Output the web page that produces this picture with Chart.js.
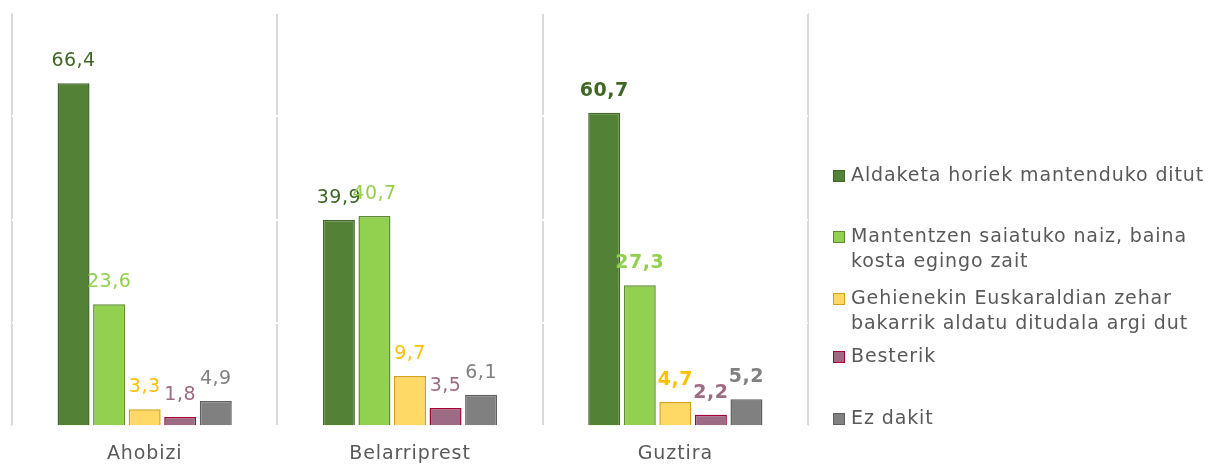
<!DOCTYPE html>
<html>
<head>
<meta charset="utf-8">
<script src="https://cdn.jsdelivr.net/npm/chart.js@4.4.1/dist/chart.umd.min.js"></script>
<style>
  html, body { margin: 0; padding: 0; background: #fff; }
  #wrap { width: 1221px; height: 464px; position: relative; }
</style>
</head>
<body>
<div id="wrap"><canvas id="bar-chart"></canvas></div>
<script>
'use strict';
// ******* DATA ********
let categories = ['Ahobizi', 'Belarriprest', 'Guztira'];
let seriesNames = [
  ['Aldaketa horiek mantenduko ditut'],
  ['Mantentzen saiatuko naiz, baina', 'kosta egingo zait'],
  ['Gehienekin Euskaraldian zehar', 'bakarrik aldatu ditudala argi dut'],
  ['Besterik'],
  ['Ez dakit']
];
let mantendu = [66.4, 39.9, 60.7];
let saiatu = [23.6, 40.7, 27.3];
let gehienekin = [3.3, 9.7, 4.7];
let besterik = [1.8, 3.5, 2.2];
let ezDakit = [4.9, 6.1, 5.2];
let yTicks = [0, 20, 40, 60, 80];

// ******* STYLE ********
let fills = ['#538135', '#92d050', '#ffd966', '#9e6b84', '#808080'];
let borders = ['#41652a', '#5f8a33', '#d4a017', '#a50034', '#5f5f5f'];
let labelColors = ['#3f6726', '#92d050', '#ffc000', '#9e6b84', '#808080'];
let fontFamily = '"DejaVu Sans", sans-serif';
let textColor = '#595959';

let allSeries = [mantendu, saiatu, gehienekin, besterik, ezDakit];

let datasets = [];
for (let i = 0; i < allSeries.length; i++) {
  datasets.push({
    label: seriesNames[i].join(' '),
    data: allSeries[i],
    backgroundColor: fills[i],
    borderColor: borders[i],
    borderWidth: 1.5,
    categoryPercentage: 0.67,
    barPercentage: 0.9
  });
}

// ******* PLUGINS ********
// wider letter spacing to get closer to the original's wide typeface
let spacing = {
  id: 'spacing',
  beforeDraw(chart) { chart.ctx.letterSpacing = '0.9px'; }
};

let valueLabels = {
  id: 'valueLabels',
  afterDatasetsDraw(chart) {
    let ctx = chart.ctx;
    ctx.save();
    ctx.letterSpacing = '0.5px';
    ctx.textAlign = 'center';
    ctx.textBaseline = 'middle';
    chart.data.datasets.forEach(function (ds, i) {
      let meta = chart.getDatasetMeta(i);
      meta.data.forEach(function (bar, j) {
        let bold = j === categories.length - 1;
        ctx.font = (bold ? 'bold ' : '') + '19px ' + fontFamily;
        ctx.fillStyle = labelColors[i];
        let txt = ds.data[j].toFixed(1).replace('.', ',');
        ctx.fillText(txt, bar.x, bar.y - 22);
      });
    });
    ctx.restore();
  }
};

let sideLegend = {
  id: 'sideLegend',
  afterDraw(chart) {
    let ctx = chart.ctx;
    let itemY = [176, 237, 299, 357, 419];
    ctx.save();
    ctx.letterSpacing = '0.9px';
    ctx.font = '19px ' + fontFamily;
    ctx.textBaseline = 'middle';
    ctx.textAlign = 'left';
    seriesNames.forEach(function (lines, i) {
      let y = itemY[i];
      ctx.fillStyle = fills[i];
      ctx.strokeStyle = borders[i];
      ctx.lineWidth = 1;
      ctx.fillRect(833, y - 6, 12, 12);
      ctx.strokeRect(833.5, y - 5.5, 11, 11);
      ctx.fillStyle = textColor;
      lines.forEach(function (line, k) {
        ctx.fillText(line, 851, y + k * 25);
      });
    });
    ctx.restore();
  }
};

// ******* CHART ********
let canvasElem = document.getElementById('bar-chart');
new Chart(canvasElem, {
  type: 'bar',
  data: { labels: categories, datasets: datasets },
  options: {
    responsive: true,
    maintainAspectRatio: false,
    animation: false,
    layout: { padding: { left: 12, right: 413, top: 13, bottom: -17 } },
    plugins: { legend: { display: false }, tooltip: { enabled: false } },
    scales: {
      x: {
        grid: { offset: true, color: '#d9d9d9', lineWidth: 2, drawTicks: false },
        border: { display: false },
        ticks: { color: textColor, font: { family: fontFamily, size: 19 }, padding: 16 }
      },
      y: {
        min: 0,
        max: 80,
        afterBuildTicks(axis) { axis.ticks = yTicks.map(function (v) { return { value: v }; }); },
        grid: { color: '#ffffff', lineWidth: 2, drawTicks: false },
        border: { display: false },
        ticks: { display: false }
      }
    }
  },
  plugins: [spacing, valueLabels, sideLegend]
});
</script>
</body>
</html>
